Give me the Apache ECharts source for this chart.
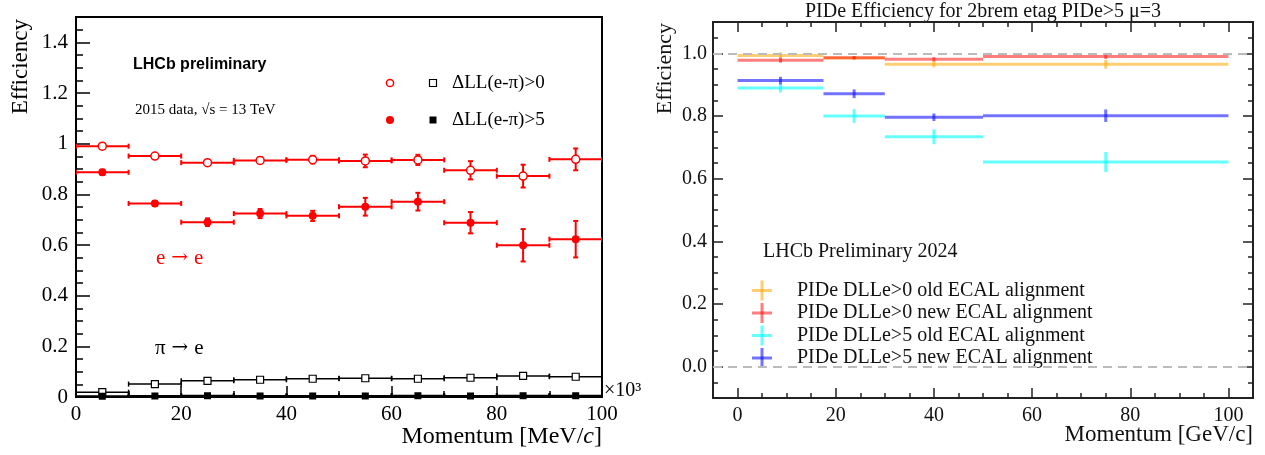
<!DOCTYPE html>
<html><head><meta charset="utf-8">
<script src="https://cdn.jsdelivr.net/npm/echarts@6/dist/echarts.min.js"></script>
<style>html,body{margin:0;padding:0;background:#fff}#c{width:1265px;height:455px}</style>
</head><body><div id="c"></div>
<script>
// ---------- Left panel data (momentum in MeV/c x10^3) ----------
const leftBinCenters = [5, 15, 25, 35, 45, 55, 65, 75, 85, 95];
const leftBinHalfWidths = [5, 5, 5, 5, 5, 5, 5, 5, 5, 5];
const eeLoose = [0.990, 0.951, 0.925, 0.934, 0.937, 0.932, 0.936, 0.895, 0.872, 0.938];
const eeLooseErr = [0.008, 0.008, 0.010, 0.012, 0.015, 0.025, 0.020, 0.036, 0.045, 0.043];
const eeTight = [0.887, 0.764, 0.690, 0.724, 0.715, 0.751, 0.771, 0.688, 0.599, 0.623];
const eeTightErr = [0.010, 0.010, 0.015, 0.018, 0.020, 0.035, 0.035, 0.042, 0.064, 0.072];
const piLoose = [0.019, 0.051, 0.064, 0.068, 0.072, 0.074, 0.072, 0.076, 0.083, 0.080];
const piLooseErr = [0.002, 0.002, 0.002, 0.002, 0.002, 0.002, 0.002, 0.002, 0.003, 0.003];
const piTight = [0.003, 0.004, 0.005, 0.004, 0.004, 0.004, 0.005, 0.004, 0.005, 0.005];
const piTightErr = [0.001, 0.001, 0.001, 0.001, 0.001, 0.001, 0.001, 0.001, 0.001, 0.001];
const leftXTicks = [0, 20, 40, 60, 80, 100];
const leftYTicks = [0, 0.2, 0.4, 0.6, 0.8, 1, 1.2, 1.4];
const leftLegendLabels = ['ΔLL(e-π)>0', 'ΔLL(e-π)>5'];

// ---------- Right panel data (momentum in GeV/c) ----------
const rightBinLow = [0, 17.5, 30, 50];
const rightBinHigh = [17.5, 30, 50, 100];
const rightBinCenters = [8.75, 23.75, 40, 75];
const oldDLL0 = [0.993, 0.985, 0.965, 0.965];
const oldDLL0Err = [0.010, 0.006, 0.010, 0.014];
const newDLL0 = [0.978, 0.986, 0.981, 0.990];
const newDLL0Err = [0.008, 0.005, 0.007, 0.008];
const oldDLL5 = [0.889, 0.800, 0.734, 0.653];
const oldDLL5Err = [0.014, 0.022, 0.024, 0.032];
const newDLL5 = [0.913, 0.871, 0.796, 0.801];
const newDLL5Err = [0.012, 0.014, 0.012, 0.020];
const rightSeriesNames = ['PIDe DLLe>0 old ECAL alignment', 'PIDe DLLe>0 new ECAL alignment',
                          'PIDe DLLe>5 old ECAL alignment', 'PIDe DLLe>5 new ECAL alignment'];
const rightRefLines = [1.0, 0.0];
const rightXTicks = [0, 20, 40, 60, 80, 100];
const rightYTicks = [0, 0.2, 0.4, 0.6, 0.8, 1.0];

const SERIF = 'Liberation Serif';
const rightColors = ['rgba(255,165,0,0.55)', 'rgba(255,0,0,0.5)', 'rgba(0,255,255,0.6)', 'rgba(0,0,255,0.55)'];

function errRenderer(color, width, cap) {
  return function (params, api) {
    const x = api.value(0), y = api.value(1), lo = api.value(2), hi = api.value(3), e = api.value(4);
    const pL = api.coord([lo, y]), pR = api.coord([hi, y]);
    const pT = api.coord([x, y + e]), pB = api.coord([x, y - e]);
    const style = { stroke: color, lineWidth: width, fill: null };
    const ch = [
      { type: 'line', shape: { x1: pL[0], y1: pL[1], x2: pR[0], y2: pR[1] }, style: style },
      { type: 'line', shape: { x1: pT[0], y1: pT[1], x2: pB[0], y2: pB[1] }, style: style }
    ];
    if (cap) {
      ch.push({ type: 'line', shape: { x1: pL[0], y1: pL[1] - cap, x2: pL[0], y2: pL[1] + cap }, style: style });
      ch.push({ type: 'line', shape: { x1: pR[0], y1: pR[1] - cap, x2: pR[0], y2: pR[1] + cap }, style: style });
      if (Math.abs(pT[1] - pB[1]) > 3) {
        ch.push({ type: 'line', shape: { x1: pT[0] - cap, y1: pT[1], x2: pT[0] + cap, y2: pT[1] }, style: style });
        ch.push({ type: 'line', shape: { x1: pB[0] - cap, y1: pB[1], x2: pB[0] + cap, y2: pB[1] }, style: style });
      }
    }
    return { type: 'group', children: ch };
  };
}
function leftRows(vals, errs) {
  return leftBinCenters.map((c, i) => [c, vals[i], c - leftBinHalfWidths[i], c + leftBinHalfWidths[i], errs[i]]);
}
function rightRows(vals, errs) {
  return rightBinCenters.map((c, i) => [c, vals[i], rightBinLow[i], rightBinHigh[i], errs[i]]);
}
function leftErr(name, vals, errs, color, width) {
  return { type: 'custom', name: name, xAxisIndex: 0, yAxisIndex: 0, clip: true, silent: true, z: 3,
    renderItem: errRenderer(color, width, 2.5), data: leftRows(vals, errs) };
}
function leftMarks(vals, symbol, size, fill, stroke, bw) {
  return { type: 'scatter', xAxisIndex: 0, yAxisIndex: 0, symbol: symbol, symbolSize: size, silent: true, z: 5,
    itemStyle: { color: fill, borderColor: stroke, borderWidth: bw, opacity: 1 },
    data: leftBinCenters.map((c, i) => [c, vals[i]]) };
}
function rightErr(idx, vals, errs) {
  return { type: 'custom', name: rightSeriesNames[idx], xAxisIndex: 1, yAxisIndex: 2, clip: true, silent: true, z: 4,
    itemStyle: { color: rightColors[idx] },
    renderItem: errRenderer(rightColors[idx], 3, 0), data: rightRows(vals, errs) };
}

const axisCol = '#000', rAxisCol = '#222';
const tickLine = (c, w) => ({ color: c, width: w });
const lineOn = (c) => ({ show: true, onZero: false, lineStyle: tickLine(c, 2) });
const lineOff = { show: false, onZero: false };

const xAxis = [
  { type: 'value', gridIndex: 0, min: 0, max: 100, interval: 20, position: 'bottom',
    axisLine: lineOn(axisCol),
    axisTick: { show: true, inside: true, length: 11, lineStyle: tickLine(axisCol, 1.5) },
    minorTick: { show: true, splitNumber: 2, length: 6, lineStyle: tickLine(axisCol, 1.5) },
    axisLabel: { fontFamily: SERIF, fontSize: 21, color: '#000', margin: 7 },
    splitLine: { show: false }, minorSplitLine: { show: false } },
  { type: 'value', gridIndex: 1, min: -5, max: 105, interval: 5, position: 'bottom',
    axisLine: lineOn(rAxisCol),
    axisTick: { show: true, inside: true, length: 5, lineStyle: tickLine(rAxisCol, 1.5) },
    axisLabel: { customValues: rightXTicks, formatter: v => String(v), fontFamily: SERIF, fontSize: 20, color: '#111', margin: 8 },
    splitLine: { show: false } },
  { type: 'value', gridIndex: 1, min: -5, max: 105, interval: 5, position: 'bottom',
    axisLine: lineOff, axisLabel: { show: false }, splitLine: { show: false },
    axisTick: { show: true, inside: true, length: 10, customValues: rightXTicks, lineStyle: tickLine(rAxisCol, 1.5) } },
  { type: 'value', gridIndex: 1, min: -5, max: 105, interval: 5, position: 'top',
    axisLine: lineOn(rAxisCol), axisLabel: { show: false }, splitLine: { show: false },
    axisTick: { show: true, inside: true, length: 5, lineStyle: tickLine(rAxisCol, 1.5) } },
  { type: 'value', gridIndex: 1, min: -5, max: 105, interval: 5, position: 'top',
    axisLine: lineOff, axisLabel: { show: false }, splitLine: { show: false },
    axisTick: { show: true, inside: true, length: 10, customValues: rightXTicks, lineStyle: tickLine(rAxisCol, 1.5) } }
];

const yAxis = [
  { type: 'value', gridIndex: 0, min: 0, max: 1.5, interval: 0.05, position: 'left',
    axisLine: lineOn(axisCol),
    axisTick: { show: true, inside: true, length: 7, lineStyle: tickLine(axisCol, 1.5) },
    axisLabel: { customValues: leftYTicks, formatter: v => String(+(+v).toFixed(1)), fontFamily: SERIF, fontSize: 21, color: '#000', margin: 8 },
    splitLine: { show: false } },
  { type: 'value', gridIndex: 0, min: 0, max: 1.5, interval: 0.05, position: 'left',
    axisLine: lineOff, axisLabel: { show: false }, splitLine: { show: false },
    axisTick: { show: true, inside: true, length: 14, customValues: leftYTicks, lineStyle: tickLine(axisCol, 1.5) } },
  { type: 'value', gridIndex: 1, min: -0.1, max: 1.1, interval: 0.05, position: 'left',
    axisLine: lineOn(rAxisCol),
    axisTick: { show: true, inside: true, length: 5, lineStyle: tickLine(rAxisCol, 1.5) },
    axisLabel: { customValues: rightYTicks, formatter: v => (+v).toFixed(1), fontFamily: SERIF, fontSize: 20, color: '#111', margin: 6 },
    splitLine: { show: false } },
  { type: 'value', gridIndex: 1, min: -0.1, max: 1.1, interval: 0.05, position: 'left',
    axisLine: lineOff, axisLabel: { show: false }, splitLine: { show: false },
    axisTick: { show: true, inside: true, length: 10, customValues: rightYTicks, lineStyle: tickLine(rAxisCol, 1.5) } },
  { type: 'value', gridIndex: 1, min: -0.1, max: 1.1, interval: 0.05, position: 'right',
    axisLine: lineOn(rAxisCol), axisLabel: { show: false }, splitLine: { show: false },
    axisTick: { show: true, inside: true, length: 5, lineStyle: tickLine(rAxisCol, 1.5) } },
  { type: 'value', gridIndex: 1, min: -0.1, max: 1.1, interval: 0.05, position: 'right',
    axisLine: lineOff, axisLabel: { show: false }, splitLine: { show: false },
    axisTick: { show: true, inside: true, length: 10, customValues: rightYTicks, lineStyle: tickLine(rAxisCol, 1.5) } }
];

const series = [
  leftErr('eeLoose', eeLoose, eeLooseErr, '#ff0000', 2),
  leftErr('eeTight', eeTight, eeTightErr, '#ff0000', 2),
  leftErr('piLoose', piLoose, piLooseErr, '#000', 1.5),
  leftErr('piTight', piTight, piTightErr, '#000', 2),
  leftMarks(eeLoose, 'circle', 8, '#fff', '#ff0000', 1.5),
  leftMarks(eeTight, 'circle', 8, '#ff0000', '#ff0000', 0),
  leftMarks(piLoose, 'rect', 7, '#fff', '#000', 1.2),
  leftMarks(piTight, 'rect', 7, '#000', '#000', 0),
  { type: 'line', xAxisIndex: 1, yAxisIndex: 2, data: [], silent: true, z: 2,
    markLine: { silent: true, symbol: ['none', 'none'], label: { show: false },
      lineStyle: { color: '#bbb', type: [9, 6], width: 2 },
      data: rightRefLines.map(v => ({ yAxis: v })) } },
  rightErr(0, oldDLL0, oldDLL0Err),
  rightErr(1, newDLL0, newDLL0Err),
  rightErr(2, oldDLL5, oldDLL5Err),
  rightErr(3, newDLL5, newDLL5Err)
];

const arrowRich = (col) => ({
  t: { font: '21px "Liberation Serif"', fill: col },
  a: { font: '20px "DejaVu Serif"', fill: col, padding: [0, 6, 0, 6] }
});
const legendRowsY = [290.5, 313, 335.5, 358];
const graphic = [
  // left panel texts
  { type: 'text', x: 21, y: 19, rotation: Math.PI / 2,
    style: { text: 'Efficiency', font: '23px "Liberation Serif"', fill: '#000', align: 'right', verticalAlign: 'middle' } },
  { type: 'text', x: 602, y: 437,
    style: { text: '{n|Momentum [MeV/}{i|c}{n|]}', align: 'right', verticalAlign: 'middle', fill: '#000',
      rich: { n: { font: '24px "Liberation Serif"', fill: '#000' }, i: { font: 'italic 24px "Liberation Serif"', fill: '#000' } } } },
  { type: 'text', x: 604, y: 391,
    style: { text: '×10³', font: '20px "Liberation Serif"', fill: '#000', align: 'left', verticalAlign: 'middle' } },
  { type: 'text', x: 133, y: 65,
    style: { text: 'LHCb preliminary', font: 'bold 16px "Liberation Sans"', fill: '#000', align: 'left', verticalAlign: 'middle' } },
  { type: 'text', x: 135, y: 110,
    style: { text: '2015 data, √s = 13 TeV', font: '15px "Liberation Serif"', fill: '#000', align: 'left', verticalAlign: 'middle' } },
  { type: 'text', x: 156, y: 258,
    style: { text: '{t|e}{a|→}{t|e}', align: 'left', verticalAlign: 'middle', rich: arrowRich('#ff0000') } },
  { type: 'text', x: 155, y: 348,
    style: { text: '{t|π}{a|→}{t|e}', align: 'left', verticalAlign: 'middle', rich: arrowRich('#000') } },
  // left legend
  { type: 'circle', shape: { cx: 390, cy: 83, r: 3.6 }, style: { fill: '#fff', stroke: '#ff0000', lineWidth: 1.5 } },
  { type: 'rect', shape: { x: 429.5, y: 79.5, width: 7, height: 7 }, style: { fill: '#fff', stroke: '#000', lineWidth: 1.2 } },
  { type: 'text', x: 452, y: 83, style: { text: leftLegendLabels[0], font: '19px "Liberation Serif"', fill: '#000', align: 'left', verticalAlign: 'middle' } },
  { type: 'circle', shape: { cx: 390, cy: 120, r: 4 }, style: { fill: '#ff0000' } },
  { type: 'rect', shape: { x: 429.5, y: 116.5, width: 7, height: 7 }, style: { fill: '#000' } },
  { type: 'text', x: 452, y: 120, style: { text: leftLegendLabels[1], font: '19px "Liberation Serif"', fill: '#000', align: 'left', verticalAlign: 'middle' } },
  // right panel texts
  { type: 'text', x: 983, y: 12,
    style: { text: 'PIDe Efficiency for 2brem etag PIDe>5 μ=3', font: '20px "Liberation Serif"', fill: '#111', align: 'center', verticalAlign: 'middle' } },
  { type: 'text', x: 665, y: 23, rotation: Math.PI / 2,
    style: { text: 'Efficiency', font: '22px "Liberation Serif"', fill: '#111', align: 'right', verticalAlign: 'middle' } },
  { type: 'text', x: 1253, y: 435,
    style: { text: 'Momentum [GeV/c]', font: '23px "Liberation Serif"', fill: '#111', align: 'right', verticalAlign: 'middle' } },
  { type: 'text', x: 763, y: 252,
    style: { text: 'LHCb Preliminary 2024', font: '20px "Liberation Serif"', fill: '#111', align: 'left', verticalAlign: 'middle' } }
];
rightSeriesNames.forEach((name, i) => {
  const cy = legendRowsY[i], cx = 762;
  graphic.push({ type: 'line', shape: { x1: cx - 10, y1: cy, x2: cx + 10, y2: cy }, style: { stroke: rightColors[i], lineWidth: 3 } });
  graphic.push({ type: 'line', shape: { x1: cx, y1: cy - 10, x2: cx, y2: cy + 10 }, style: { stroke: rightColors[i], lineWidth: 3 } });
  graphic.push({ type: 'text', x: 797, y: cy, style: { text: name, font: '20px "Liberation Serif"', fill: '#111', align: 'left', verticalAlign: 'middle' } });
});

const chart = echarts.init(document.getElementById('c'), null, { renderer: 'canvas' });
chart.setOption({
  animation: false,
  backgroundColor: '#fff',
  grid: [
    { left: 76, top: 17, width: 526, height: 380, show: true, borderColor: '#000', borderWidth: 2, backgroundColor: 'transparent' },
    { left: 713, top: 22, width: 540, height: 376, show: true, borderColor: '#222', borderWidth: 2, backgroundColor: 'transparent' }
  ],
  xAxis: xAxis,
  yAxis: yAxis,
  series: series,
  graphic: graphic
});
</script></body></html>
